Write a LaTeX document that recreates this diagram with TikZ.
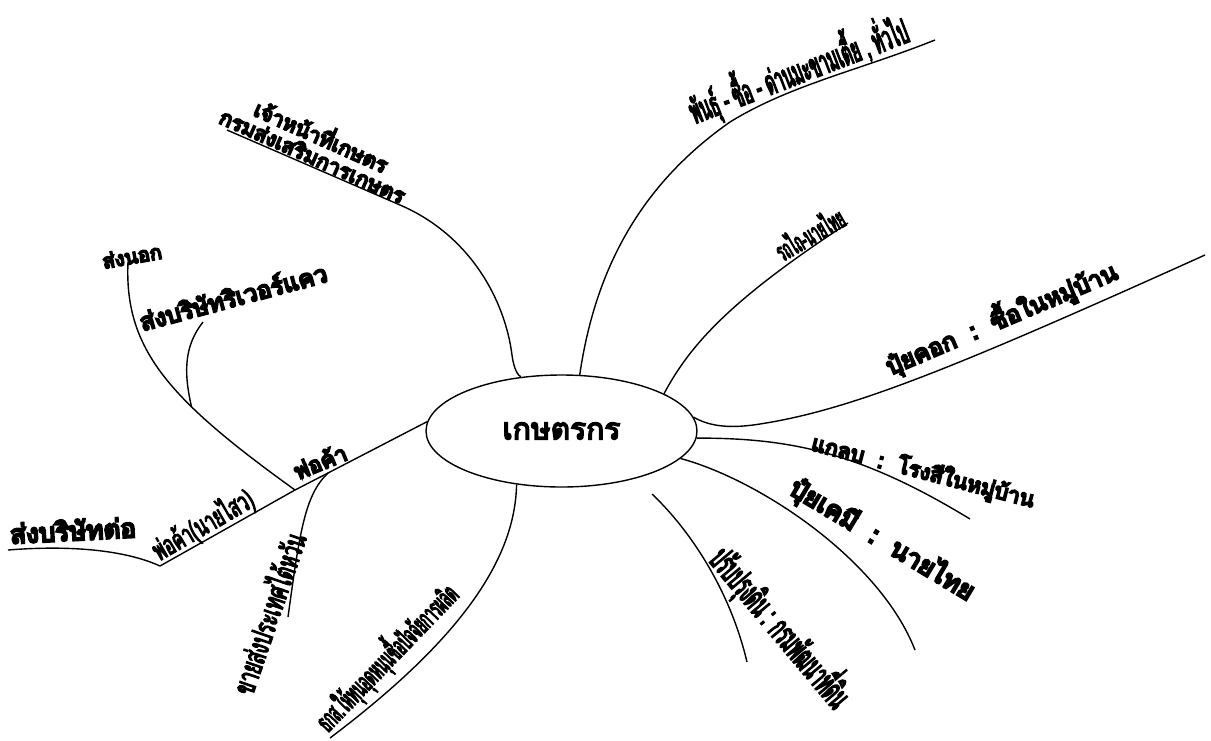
\documentclass[tikz,border=0pt]{standalone}
\usepackage{fontspec}
\usetikzlibrary{shapes.geometric}
\newfontfamily\thai[Script=Thai,FakeBold=9]{Loma}
\newfontfamily\thaim[Script=Thai,FakeBold=5]{Loma}
\newfontfamily\thaic[Script=Thai,FakeStretch=0.6,FakeBold=4]{Loma}
\newfontfamily\thaicc[Script=Thai,FakeStretch=0.45,FakeBold=4]{Loma}
\begin{document}
\begin{tikzpicture}[x=1pt,y=-1pt,
  lbl/.style={font=\thai\fontsize{#1}{#1}\selectfont, inner sep=0pt},
  clbl/.style={font=\thaic\fontsize{#1}{#1}\selectfont, inner sep=0pt},
  cclbl/.style={font=\thaicc\fontsize{#1}{#1}\selectfont, inner sep=0pt},
  branch/.style={draw, line width=1.4pt}]
\useasboundingbox (0,0) rectangle (1211,740);
\fill[white] (0,0) rectangle (1211,740);
% centre
\node[ellipse, draw, line width=1.4pt, minimum width=271pt, minimum height=112pt, inner sep=0pt,
      font=\thaim\fontsize{30}{34}\selectfont] (c) at (561.5,431) {เกษตรกร};
% free ends
\coordinate (e1) at (935,40);
\coordinate (e2) at (848,223);
\coordinate (e3) at (1205,255);
\coordinate (e4) at (970,519);
\coordinate (e5) at (915,650);
\coordinate (s6) at (652,494);
\coordinate (e6) at (747,662);
\coordinate (e7) at (330,738);
\coordinate (e8) at (227,130);
\coordinate (j2) at (328,473);
\coordinate (j1) at (295,490);
\coordinate (pl) at (160,566);
\coordinate (e9) at (288,617);
\coordinate (sn) at (128,262);
\coordinate (sb) at (203,322);
\coordinate (e10) at (8,550);
% branches
\draw[branch] (c.72) .. controls (595,270) and (640,185) .. (730,122) .. controls (790,85) and (860,70) .. (e1);
\draw[branch] (c.20) .. controls (690,345) and (730,300) .. (e2);
\draw[branch] (c.6) .. controls (712,428) and (735,428) .. (760,424) .. controls (850,410) and (950,370) .. (e3);
\draw[branch] (c.-3) .. controls (790,438) and (860,452) .. (e4);
\draw[branch] (c.-13) .. controls (760,480) and (880,560) .. (e5);
\draw[branch] (s6) .. controls (690,530) and (730,590) .. (e6);
\draw[branch] (c.230) .. controls (515,560) and (460,640) .. (e7);
\draw[branch] (e8) -- (400,205) .. controls (470,235) and (505,300) .. (512,355) .. controls (514,370) and (518,375) .. (c.127);
\draw[branch] (c.176) -- (j2) -- (j1) -- (pl);
\draw[branch] (j2) .. controls (305,495) and (300,530) .. (e9);
\draw[branch] (sn) .. controls (124,350) and (170,400) .. coordinate[pos=0.65] (jb) (j1);
\draw[branch] (sb) .. controls (185,345) and (183,370) .. (jb);
\draw[branch] (e10) .. controls (70,545) and (125,550) .. (pl);
% labels
\node[cclbl=34, rotate=21] (t1) at (798,70) {พันธุ์ - ซื้อ - ด่านมะขามเตี้ย , ทั่วไป};
\node[cclbl=27, rotate=30] (t2) at (809,233) {รถไถ-นายไทย};
\node[lbl=24, rotate=23] (t3) at (1001,318) {ปุ๋ยคอก\ \ :\ \ ซื้อในหมู่บ้าน};
\node[lbl=21.5, rotate=-14.5] (t4) at (923,472) {แกลบ\ \ :\ \ โรงสีในหมู่บ้าน};
\node[lbl=26, rotate=-31] (t5) at (882,540) {ปุ๋ยเคมี\ \ :\ \ นายไทย};
\node[cclbl=35, rotate=-50] (t6) at (781,627) {ปรับปรุงดิน : กรมพัฒนาที่ดิน};
\node[cclbl=28, rotate=46] (t7) at (386,657) {ธกส.ให้ทุนอุดหนุนซื้อปัจจัยการผลิต};
\node[clbl=30, rotate=71] (t8) at (267,613) {ขายส่งประเทศไต้หวัน};
\node[lbl=22, rotate=22] (t9) at (320,461) {พ่อค้า};
\node[clbl=28, rotate=30] (t10) at (203,525) {พ่อค้า(นายไสว)};
\node[lbl=26, rotate=3] (t11) at (73,530) {ส่งบริษัทต่อ};
\node[lbl=20, rotate=10] (t12) at (132,256) {ส่งนอก};
\node[lbl=24, rotate=15] (t13) at (233,296) {ส่งบริษัทริเวอร์แคว};
\node[lbl=21, rotate=-24, align=center] (t14) at (318,144) {เจ้าหน้าที่เกษตร\\กรมส่งเสริมการเกษตร};
\end{tikzpicture}
\end{document}
